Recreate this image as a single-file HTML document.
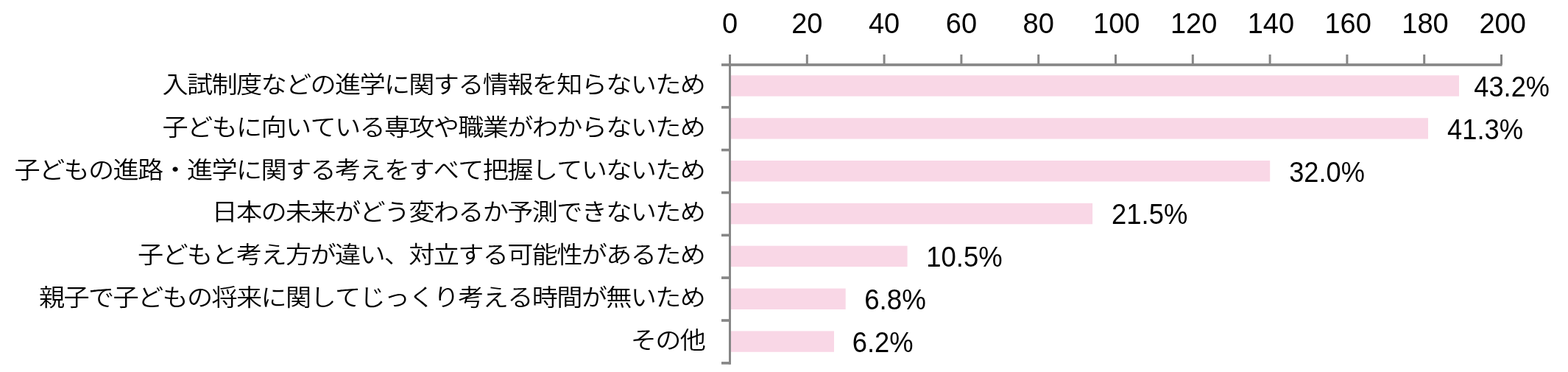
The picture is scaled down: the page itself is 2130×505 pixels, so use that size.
<!DOCTYPE html>
<html lang="ja"><head><meta charset="utf-8"><title>chart</title>
<style>
html,body{margin:0;padding:0;background:#fff;}
svg{display:block;}
.num{font-family:"Liberation Sans",sans-serif;font-size:38px;fill:#000;}
.lab{font-family:"Liberation Sans","Noto Sans CJK JP",sans-serif;font-size:33.5px;font-weight:350;fill:#000;text-anchor:end;font-kerning:none;letter-spacing:-1.595px;}
</style></head><body>
<svg width="2130" height="505" viewBox="0 0 2130 505">
<rect width="2130" height="505" fill="#fff"/>

<rect x="991.5" y="102.3" width="990.5" height="28.4" fill="#f9d7e6"/>
<rect x="991.5" y="160.2" width="948.5" height="28.4" fill="#f9d7e6"/>
<rect x="991.5" y="218.0" width="733.7" height="28.4" fill="#f9d7e6"/>
<rect x="991.5" y="275.9" width="492.6" height="28.4" fill="#f9d7e6"/>
<rect x="991.5" y="333.7" width="241.1" height="28.4" fill="#f9d7e6"/>
<rect x="991.5" y="391.6" width="157.2" height="28.4" fill="#f9d7e6"/>
<rect x="991.5" y="449.4" width="141.5" height="28.4" fill="#f9d7e6"/>
<rect x="980" y="86.2" width="1060.5" height="3.6" fill="#868686"/>
<rect x="990" y="74" width="3" height="420.8" fill="#868686"/>
<rect x="1094.8" y="74" width="3" height="14" fill="#868686"/>
<rect x="1199.6" y="74" width="3" height="14" fill="#868686"/>
<rect x="1304.4" y="74" width="3" height="14" fill="#868686"/>
<rect x="1409.2" y="74" width="3" height="14" fill="#868686"/>
<rect x="1514.0" y="74" width="3" height="14" fill="#868686"/>
<rect x="1618.8" y="74" width="3" height="14" fill="#868686"/>
<rect x="1723.6" y="74" width="3" height="14" fill="#868686"/>
<rect x="1828.4" y="74" width="3" height="14" fill="#868686"/>
<rect x="1933.2" y="74" width="3" height="14" fill="#868686"/>
<rect x="2038.0" y="74" width="3" height="14" fill="#868686"/>
<rect x="980" y="143.9" width="11" height="3.6" fill="#868686"/>
<rect x="980" y="201.8" width="11" height="3.6" fill="#868686"/>
<rect x="980" y="259.7" width="11" height="3.6" fill="#868686"/>
<rect x="980" y="317.5" width="11" height="3.6" fill="#868686"/>
<rect x="980" y="375.3" width="11" height="3.6" fill="#868686"/>
<rect x="980" y="433.2" width="11" height="3.6" fill="#868686"/>
<rect x="980" y="491.1" width="11" height="3.6" fill="#868686"/>
<text class="num" x="991.5" y="44.6" text-anchor="middle">0</text>
<text class="num" x="1096.3" y="44.6" text-anchor="middle">20</text>
<text class="num" x="1201.1" y="44.6" text-anchor="middle">40</text>
<text class="num" x="1305.9" y="44.6" text-anchor="middle">60</text>
<text class="num" x="1410.7" y="44.6" text-anchor="middle">80</text>
<text class="num" x="1516.8" y="44.6" text-anchor="middle">100</text>
<text class="num" x="1621.6" y="44.6" text-anchor="middle">120</text>
<text class="num" x="1726.4" y="44.6" text-anchor="middle">140</text>
<text class="num" x="1831.2" y="44.6" text-anchor="middle">160</text>
<text class="num" x="1936.0" y="44.6" text-anchor="middle">180</text>
<text class="num" x="2041.1" y="44.6" text-anchor="middle">200</text>
<text class="lab" transform="translate(957.20,125.8) scale(1.0500,0.96)">入試制度などの進学に関する情報を知らないため</text>
<text class="num" transform="translate(2002.35,130.8) scale(0.9525,1)">43.2%</text>
<text class="lab" transform="translate(957.20,183.7) scale(1.0500,0.96)">子どもに向いている専攻や職業がわからないため</text>
<text class="num" transform="translate(1966.03,188.7) scale(0.9562,1)">41.3%</text>
<text class="lab" transform="translate(957.20,241.5) scale(1.0500,0.96)">子どもの進路・進学に関する考えをすべて把握していないため</text>
<text class="num" transform="translate(1751.21,246.5) scale(0.9529,1)">32.0%</text>
<text class="lab" transform="translate(957.20,299.4) scale(1.0500,0.96)">日本の未来がどう変わるか予測できないため</text>
<text class="num" transform="translate(1510.03,304.4) scale(0.9588,1)">21.5%</text>
<text class="lab" transform="translate(957.20,357.2) scale(1.0500,0.96)">子どもと考え方が違い、対立する可能性があるため</text>
<text class="num" transform="translate(1258.20,362.2) scale(0.9607,1)">10.5%</text>
<text class="lab" transform="translate(957.20,415.1) scale(1.0500,0.96)">親子で子どもの将来に関してじっくり考える時間が無いため</text>
<text class="num" transform="translate(1174.14,420.1) scale(0.9663,1)">6.8%</text>
<text class="lab" transform="translate(957.20,472.9) scale(1.0500,0.96)">その他</text>
<text class="num" transform="translate(1157.73,477.9) scale(0.9566,1)">6.2%</text>
</svg></body></html>
